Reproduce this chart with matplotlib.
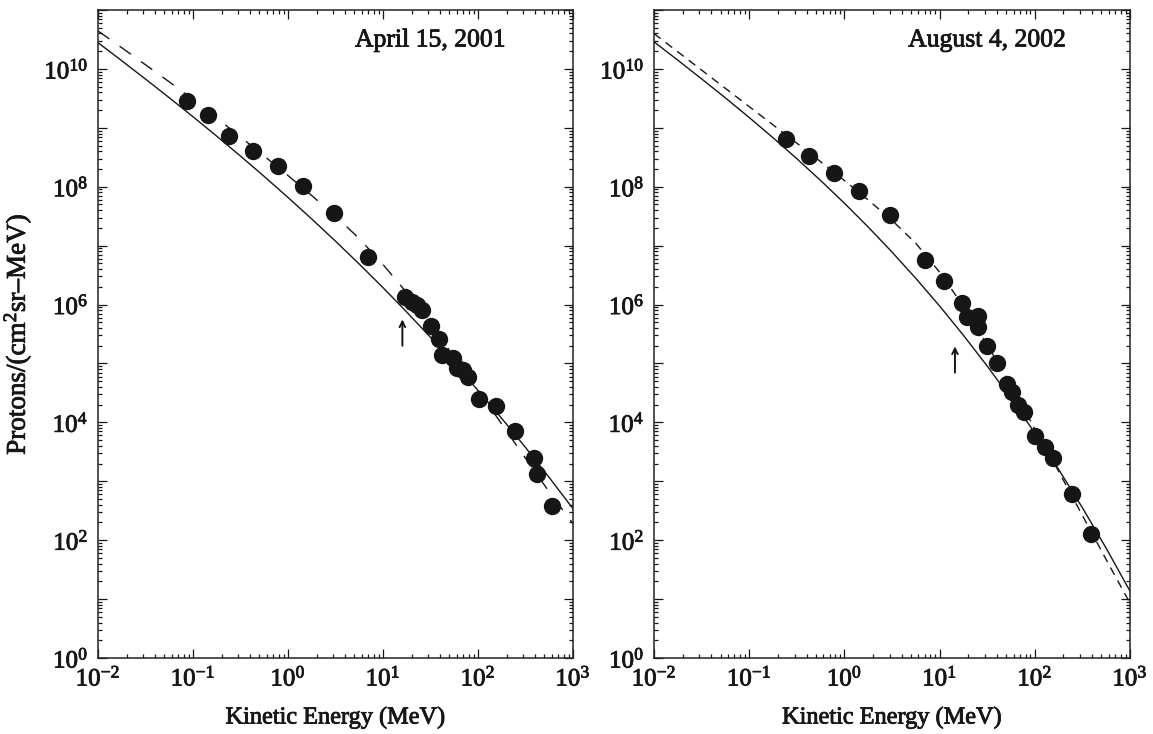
import matplotlib
matplotlib.use("Agg")
import matplotlib.pyplot as plt
import matplotlib.patheffects as pe
from matplotlib.ticker import LogLocator, FuncFormatter, NullFormatter
import numpy as np

plt.rcParams['font.family'] = ['Liberation Serif', 'DejaVu Serif']
plt.rcParams['mathtext.fontset'] = 'custom'
plt.rcParams['mathtext.rm'] = 'Liberation Serif'
plt.rcParams['mathtext.it'] = 'Liberation Serif:italic'
plt.rcParams['mathtext.bf'] = 'Liberation Serif:bold'

# ---------------- data ----------------
# April 15, 2001 event: measured points
apr_energy = [0.0859, 0.1449, 0.241, 0.425, 0.791, 1.43, 3.05, 7.0,
              17.1, 20.0, 22.6, 25.5, 31.8, 39.2, 41.5, 55.0, 59.7, 70.0,
              79.1, 102.6, 154.5, 244.9, 388, 415, 597]
apr_flux = [2.90e9, 1.66e9, 7.38e8, 4.06e8, 2.25e8, 1.045e8, 3.63e7, 6.35e6,
            1.36e6, 1.12e6, 9.84e5, 8.09e5, 4.34e5, 2.58e5, 1.39e5, 1.22e5,
            8.28e4, 7.76e4, 5.97e4, 2.47e4, 1.90e4, 7.14e3, 2.45e3, 1.33e3, 385]

# August 4, 2002 event: measured points
aug_energy = [0.2415, 0.4276, 0.7834, 1.422, 3.013, 7.08, 11.2, 17.3, 19.3,
              25.2, 25.5, 31.7, 39.8, 50.7, 57.1, 67.1, 77.1, 100.5, 128,
              153.5, 244, 386]
aug_flux = [6.49e8, 3.37e8, 1.69e8, 8.49e7, 3.28e7, 5.71e6, 2.52e6, 1.05e6,
            6.24e5, 6.40e5, 4.22e5, 1.98e5, 1.03e5, 4.49e4, 3.32e4, 1.97e4,
            1.52e4, 5.87e3, 3.87e3, 2.45e3, 608, 126]

# model curves: log10(energy / MeV) and log10(flux)
curve_log_energy = [-2.0, -1.75, -1.5, -1.25, -1.0, -0.75, -0.5, -0.25, 0.0, 0.25,
                    0.5, 0.75, 1.0, 1.25, 1.5, 1.75, 2.0, 2.25, 2.5, 2.75, 3.0]
apr_solid_log = [10.446, 10.139, 9.827, 9.511, 9.188, 8.858, 8.520, 8.174, 7.818, 7.452,
                 7.076, 6.687, 6.287, 5.872, 5.444, 5.001, 4.542, 4.067, 3.574, 3.063, 2.534]
apr_dashed_log = [10.645, 10.36, 10.07, 9.78, 9.48, 9.165, 8.845, 8.52, 8.19, 7.85,
                  7.50, 7.12, 6.68, 6.20, 5.66, 5.11, 4.55, 3.97, 3.39, 2.82, 2.28]
aug_solid_log = [10.46, 10.148, 9.831, 9.508, 9.175, 8.832, 8.476, 8.106, 7.72, 7.316,
                 6.891, 6.445, 5.975, 5.479, 4.956, 4.404, 3.82, 3.203, 2.551, 1.863, 1.135]
aug_dashed_log = [10.60, 10.29, 9.98, 9.67, 9.36, 9.05, 8.74, 8.425, 8.105, 7.775,
                  7.43, 7.04, 6.55, 5.97, 5.32, 4.62, 3.89, 3.17, 2.42, 1.67, 0.93]

# arrow markers (energy, flux at arrow base, flux at arrow tip)
apr_arrow = (16.0, 2.0e5, 5.6e5)
aug_arrow = (14.5, 7.0e4, 1.95e5)

titles = ["April 15, 2001", "August 4, 2002"]

# ---------------- figure ----------------
W, H = 1153, 734
fig = plt.figure(figsize=(W / 100, H / 100), dpi=100)
ax_l = fig.add_axes([98 / W, 1 - 658 / H, 475 / W, 648 / H])
ax_r = fig.add_axes([654 / W, 1 - 658 / H, 476 / W, 648 / H])

ink = '#161616'
heavy = [pe.withStroke(linewidth=0.6, foreground=ink)]


def ylab(v, pos):
    e = int(round(np.log10(v)))
    if e % 2 == 0:
        return r'$\mathdefault{10^{%d}}$' % e
    return ''


def xlab(v, pos):
    e = int(round(np.log10(v)))
    return r'$\mathdefault{10^{%d}}$' % e


panels = [
    (ax_l, apr_energy, apr_flux, apr_solid_log, apr_dashed_log, apr_arrow, titles[0], (0, (10, 9))),
    (ax_r, aug_energy, aug_flux, aug_solid_log, aug_dashed_log, aug_arrow, titles[1], (0, (6, 4.5))),
]

ce = np.power(10.0, curve_log_energy)
for ax, en, fl, sol, das, arr, title, dstyle in panels:
    ax.set_xscale('log')
    ax.set_yscale('log')
    ax.plot(ce, np.power(10.0, sol), color=ink, lw=1.0, zorder=2)
    ax.plot(ce, np.power(10.0, das), color=ink, lw=1.0, linestyle=dstyle, zorder=2)
    ax.plot(en, fl, 'o', color=ink, markersize=12.5, markeredgewidth=0, zorder=3)
    ax.annotate('', xy=(arr[0], arr[2]), xytext=(arr[0], arr[1]),
                arrowprops=dict(arrowstyle='->', lw=1.4, color=ink,
                                shrinkA=0, shrinkB=0, mutation_scale=10))
    ax.set_xlim(1e-2, 1e3)
    ax.set_ylim(1e0, 1e11)
    ax.xaxis.set_major_locator(LogLocator(base=10, numticks=20))
    ax.yaxis.set_major_locator(LogLocator(base=10, numticks=20))
    ax.xaxis.set_minor_locator(LogLocator(base=10, subs=np.arange(2, 10), numticks=20))
    ax.yaxis.set_minor_locator(LogLocator(base=10, subs=np.arange(2, 10), numticks=20))
    ax.xaxis.set_major_formatter(FuncFormatter(xlab))
    ax.yaxis.set_major_formatter(FuncFormatter(ylab))
    ax.xaxis.set_minor_formatter(NullFormatter())
    ax.yaxis.set_minor_formatter(NullFormatter())
    ax.tick_params(which='both', direction='in', top=True, right=True,
                   colors=ink, width=0.9)
    ax.tick_params(which='major', length=6.5, labelsize=18)
    ax.tick_params(which='minor', length=3.2)
    ax.tick_params(axis='x', which='major', pad=6)
    ax.tick_params(axis='y', which='major', pad=7)
    for s in ax.spines.values():
        s.set_linewidth(1.1)
        s.set_color('#222222')
    xl = ax.set_xlabel('Kinetic Energy (MeV)', fontsize=17.5, labelpad=12, color=ink)
    xl.set_path_effects(heavy)
    t = ax.text(0.70, 0.953, title, transform=ax.transAxes, ha='center', va='center',
                fontsize=18.5, color=ink)
    t.set_path_effects(heavy)

yl = ax_l.set_ylabel(r'Protons/(cm$^{2}$sr–MeV)', fontsize=19.5, labelpad=8, color=ink)
yl.set_path_effects(heavy)

fig.canvas.draw()
for ax in (ax_l, ax_r):
    for lab in ax.get_xticklabels() + ax.get_yticklabels():
        lab.set_path_effects(heavy)

fig.savefig('out.png', dpi=100)
